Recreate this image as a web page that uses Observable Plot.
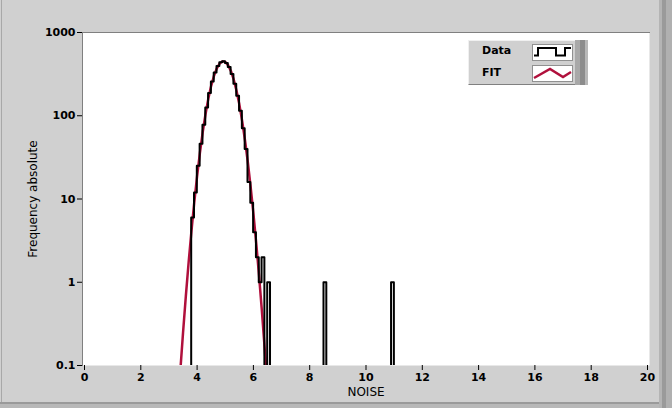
<!DOCTYPE html>
<html>
<head>
<meta charset="utf-8">
<script src="https://cdn.jsdelivr.net/npm/d3@7"></script>
<script src="https://cdn.jsdelivr.net/npm/@observablehq/plot@0.6"></script>
<style>
  html, body { margin: 0; padding: 0; background: #d0d0d0; }
  #wrap { position: relative; width: 672px; height: 408px; background: #d0d0d0; overflow: hidden; font-family: "DejaVu Sans", sans-serif; }
  #wrap svg { position: absolute; left: 0; top: 0; }
  .bev-r1 { position: absolute; left: 659px; top: 0; width: 3px; height: 408px; background: #b4b4b4; }
  .bev-r2 { position: absolute; left: 662px; top: 0; width: 4px; height: 408px; background: #9a9a9a; }
  .bev-r3 { position: absolute; left: 666px; top: 0; width: 6px; height: 408px; background: #b0b0b0; }
  .bev-b1 { position: absolute; left: 0; top: 402px; width: 659px; height: 2px; background: #9a9a9a; }
  .bev-b2 { position: absolute; left: 0; top: 404px; width: 659px; height: 4px; background: #b8b8b8; }
  .bev-l { position: absolute; left: 1px; top: 0; width: 1px; height: 402px; background: #a8a8a8; }
  #legend { position: absolute; left: 468px; top: 40px; width: 120px; height: 45px; }
  #legend .box { position: absolute; left: 0; top: 0; width: 106px; height: 43px; background: #d0d0d0; border-top: 1px solid #f0f0f0; border-left: 1px solid #f0f0f0; border-bottom: 1px solid #808080; }
  #legend .bar1 { position: absolute; left: 107px; top: 0; width: 5px; height: 45px; background: #a8a8a8; }
  #legend .bar2 { position: absolute; left: 112px; top: 0; width: 5px; height: 45px; background: #8c8c8c; }
  #legend .bar3 { position: absolute; left: 117px; top: 0; width: 3px; height: 45px; background: #b8b8b8; }
  #legend .lbl { position: absolute; left: 14px; font-size: 11px; font-weight: bold; color: #000; }
  #legend .sw { position: absolute; left: 64px; width: 41px; height: 17px; background: #fff; border: 1px solid #909090; box-sizing: border-box; }
</style>
</head>
<body>
<div id="wrap">
  <div class="bev-l"></div>
  <div class="bev-r1"></div><div class="bev-r2"></div><div class="bev-r3"></div>
  <div class="bev-b1"></div><div class="bev-b2"></div>
</div>
<script>
// Histogram ("Data"): bin left edges and counts (0 = empty bin)
const dataX = [3.70, 3.79, 3.89, 3.99, 4.09, 4.19, 4.29, 4.39, 4.49, 4.59, 4.69, 4.79, 4.89, 4.99, 5.09, 5.19, 5.29, 5.39, 5.49, 5.59, 5.69, 5.79, 5.89, 5.99, 6.09, 6.19, 6.29, 6.39, 6.49, 6.59, 8.49, 8.59, 10.89, 10.99];
const dataY = [0, 6, 12, 25, 46, 78, 126, 187, 258, 331, 395, 438, 451, 431, 384, 317, 243, 174, 115, 71, 40, 16, 9, 4, 2, 1, 2, 0, 1, 0, 1, 0, 1, 0];

// Gaussian fit ("FIT")
const fitX = [3.3, 3.4, 3.5, 3.6, 3.7, 3.8, 3.9, 4.0, 4.1, 4.2, 4.3, 4.4, 4.5, 4.6, 4.7, 4.8, 4.9, 5.0, 5.1, 5.2, 5.3, 5.4, 5.5, 5.6, 5.7, 5.8, 5.9, 6.0, 6.1, 6.2, 6.3, 6.4, 6.5];
const fitY = [0.026, 0.083, 0.247, 0.68, 1.75, 4.15, 9.2, 18.8, 35.9, 63.7, 105, 161, 229, 302, 371, 424, 450, 443, 406, 345, 273, 200, 137, 86.8, 51.1, 28.0, 14.2, 6.74, 2.96, 1.21, 0.459, 0.161, 0.053];

const xTicks = [0, 2, 4, 6, 8, 10, 12, 14, 16, 18, 20];
const yTicks = [0.1, 1, 10, 100, 1000];
const yTickLabels = ["0.1", "1", "10", "100", "1000"];

const xLabel = "NOISE";
const yLabel = "Frequency absolute";
const seriesNames = ["Data", "FIT"];

const dataRows = dataX.map((x, i) => ({x, y: dataY[i]}));
const fitRows = fitX.map((x, i) => ({x, y: fitY[i]}));
const yLabelMap = new Map(yTicks.map((t, i) => [t, yTickLabels[i]]));

const RED = "#b0103c";

const chart = Plot.plot({
  width: 672,
  height: 408,
  marginLeft: 82,
  marginRight: 23,
  marginTop: 32,
  marginBottom: 43,
  style: {background: "transparent", fontFamily: "DejaVu Sans, sans-serif", fontSize: "11px", color: "#000"},
  x: {domain: [0, 20], inset: 2},
  y: {type: "log", domain: [0.1, 1000]},
  marks: [
    Plot.frame({fill: "white", stroke: "none"}),
    Plot.frame({anchor: "left", stroke: "#808080"}),
    Plot.frame({anchor: "top", stroke: "#808080"}),
    Plot.axisY({ticks: yTicks, tickSize: 5, tickPadding: 2, tickFormat: d => yLabelMap.get(d) ?? String(d), fontWeight: "bold", label: null}),
    Plot.axisX({ticks: xTicks, tickSize: 5, tickPadding: 3, tickFormat: d => String(d), fontWeight: "bold", label: null}),
    Plot.text([xLabel], {frameAnchor: "bottom", dy: 30, fontSize: 12}),
    Plot.text([yLabel], {frameAnchor: "left", textAnchor: "middle", rotate: -90, dx: -49, fontSize: 12}),
    Plot.line(fitRows, {x: "x", y: "y", stroke: RED, strokeWidth: 2.5, clip: true}),
    Plot.line(dataRows, {x: "x", y: d => Math.max(d.y, 0.01), curve: "step-after", stroke: "black", strokeWidth: 2, clip: true})
  ]
});

const wrap = document.getElementById("wrap");
wrap.insertBefore(chart, wrap.firstChild);

// Legend
const legend = document.createElement("div");
legend.id = "legend";
legend.innerHTML = `
  <div class="box"></div>
  <div class="bar1"></div><div class="bar2"></div><div class="bar3"></div>
  <div class="lbl" style="top:4px">${seriesNames[0]}</div>
  <div class="lbl" style="top:26px">${seriesNames[1]}</div>
  <div class="sw" style="top:4px"><svg width="39" height="15" style="position:absolute;left:0;top:0">
    <polyline points="1,10.5 5,10.5 5,3 23,3 23,10.5 32,10.5 32,3 38,3" fill="none" stroke="#000" stroke-width="2"/></svg></div>
  <div class="sw" style="top:25px"><svg width="39" height="15" style="position:absolute;left:0;top:0">
    <polyline points="1,12 17,3 30,11 38,6" fill="none" stroke="${RED}" stroke-width="2.5"/></svg></div>`;
wrap.appendChild(legend);
</script>
</body>
</html>
